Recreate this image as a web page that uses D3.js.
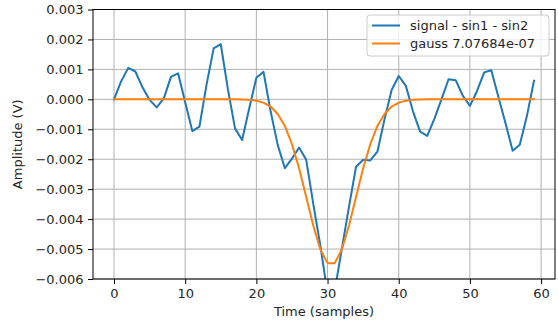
<!DOCTYPE html>
<html>
<head>
<meta charset="utf-8">
<script src="https://cdn.jsdelivr.net/npm/d3@7/dist/d3.min.js"></script>
<style>
  html, body { margin: 0; padding: 0; background: #fff; }
  svg { display: block; }
  text { font-family: "DejaVu Sans", sans-serif; fill: #262626; }
</style>
</head>
<body>
<svg id="chart" width="558" height="325"></svg>
<script>
// Sample index (time axis)
const samples = d3.range(0, 60);

// Measured signal after removing the two sinusoids (V)
const signalValues = [
  0.0000, 0.0006, 0.00105, 0.00093, 0.0004, -0.00002, -0.00027, 0.00003, 0.00075, 0.00087,
  -0.0001, -0.00106, -0.00091, 0.00049, 0.0017, 0.00184, 0.00034, -0.00097, -0.00136, -0.0003,
  0.00072, 0.00092, -0.0004, -0.00152, -0.0023, -0.00198, -0.00161, -0.00202, -0.0035, -0.0049,
  -0.0065, -0.0064, -0.0050, -0.0036, -0.00225, -0.00202, -0.00204, -0.00175, -0.00067, 0.00031,
  0.00078, 0.00045, -0.0004, -0.00108, -0.00122, -0.00065, 0.0000, 0.00067, 0.00064, 0.00012,
  -0.00022, 0.00028, 0.0009, 0.00097, 0.00008, -0.0008, -0.00172, -0.00152, -0.00056, 0.00062
];

// Fitted gaussian pulse (V)
const gaussValues = [
  0, 0, 0, 0, 0, 0, 0, 0, 0, 0,
  0, 0, 0, 0, 0, 0, 0, 0, -0.000006, -0.000018,
  -0.000047, -0.00011, -0.00024, -0.00049, -0.00089, -0.0015, -0.0023, -0.00326, -0.00422, -0.00502,
  -0.00547, -0.00547, -0.00502, -0.00422, -0.00326, -0.0023, -0.0015, -0.00089, -0.00049, -0.00024,
  -0.00011, -0.000047, -0.000018, -0.000006, 0, 0, 0, 0, 0, 0,
  0, 0, 0, 0, 0, 0, 0, 0, 0, 0
];

const seriesNames = ["signal - sin1 - sin2", "gauss 7.07684e-07"];
const seriesColors = ["#1f77b4", "#ff7f0e"];

const xTicks = [0, 10, 20, 30, 40, 50, 60];
const yTicks = [0.003, 0.002, 0.001, 0.000, -0.001, -0.002, -0.003, -0.004, -0.005, -0.006];

const xTitle = "Time (samples)";
const yTitle = "Amplitude (V)";

// Layout
const margin = { left: 93, right: 3, top: 9.5, bottom: 46 };
const W = 558, H = 325;
const plotW = W - margin.left - margin.right;
const plotH = H - margin.top - margin.bottom;

const svg = d3.select("#chart");

const x = d3.scaleLinear().domain([-2.95, 61.95]).range([0, plotW]);
const y = d3.scaleLinear().domain([-0.006, 0.003]).range([plotH, 0]);

const g = svg.append("g").attr("transform", `translate(${margin.left},${margin.top})`);

// Grid
g.append("g").selectAll("line").data(xTicks).join("line")
  .attr("x1", d => x(d)).attr("x2", d => x(d))
  .attr("y1", 0).attr("y2", plotH)
  .attr("stroke", "#b0b0b0").attr("stroke-width", 1);
g.append("g").selectAll("line").data(yTicks).join("line")
  .attr("x1", 0).attr("x2", plotW)
  .attr("y1", d => y(d)).attr("y2", d => y(d))
  .attr("stroke", "#b0b0b0").attr("stroke-width", 1);

// Clip region for the curves
svg.append("defs").append("clipPath").attr("id", "plotClip")
  .append("rect").attr("x", 0).attr("y", 0).attr("width", plotW).attr("height", plotH);

const line = d3.line().x((d, i) => x(samples[i])).y(d => y(d));

const curves = g.append("g").attr("clip-path", "url(#plotClip)");
[signalValues, gaussValues].forEach((vals, k) => {
  curves.append("path")
    .datum(vals)
    .attr("d", line)
    .attr("fill", "none")
    .attr("stroke", seriesColors[k])
    .attr("stroke-width", 2)
    .attr("stroke-linejoin", "round")
    .attr("stroke-linecap", "square");
});

// Axes
const fmtY = v => {
  const s = d3.format(".3f")(Math.abs(v) < 1e-12 ? 0 : v);
  return s.replace("-", "\u2212");
};
const xAxis = d3.axisBottom(x).tickValues(xTicks).tickSize(5).tickPadding(4.5).tickFormat(d3.format("d"));
const yAxis = d3.axisLeft(y).tickValues(yTicks).tickSize(5).tickPadding(4.5).tickFormat(fmtY);

const gx = g.append("g").attr("transform", `translate(0,${plotH})`).call(xAxis);
const gy = g.append("g").call(yAxis);
[gx, gy].forEach(a => {
  a.select(".domain").remove();
  a.selectAll(".tick line").attr("stroke", "#000").attr("stroke-width", 1);
  a.selectAll(".tick text").attr("font-size", 13).attr("font-family", "DejaVu Sans, sans-serif").attr("fill", "#262626");
});

// Spines
g.append("rect").attr("x", 0).attr("y", 0).attr("width", plotW).attr("height", plotH)
  .attr("fill", "none").attr("stroke", "#000").attr("stroke-width", 1);

// Axis titles
svg.append("text")
  .attr("x", margin.left + plotW / 2).attr("y", 316)
  .attr("text-anchor", "middle").attr("font-size", 13)
  .text(xTitle);
svg.append("text")
  .attr("transform", `translate(22,${margin.top + plotH / 2}) rotate(-90)`)
  .attr("text-anchor", "middle").attr("font-size", 13)
  .text(yTitle);

// Legend
const legend = svg.append("g").attr("transform", "translate(367,15)");
legend.append("rect").attr("x", 0).attr("y", 0).attr("width", 182).attr("height", 41)
  .attr("rx", 3).attr("fill", "#fff").attr("fill-opacity", 0.8)
  .attr("stroke", "#cccccc").attr("stroke-width", 1);
seriesNames.forEach((name, k) => {
  const cy = 10.5 + k * 18;
  legend.append("line").attr("x1", 5).attr("x2", 33).attr("y1", cy).attr("y2", cy)
    .attr("stroke", seriesColors[k]).attr("stroke-width", 2);
  legend.append("text").attr("x", 43).attr("y", cy).attr("dy", "0.35em")
    .attr("font-size", 13).text(name);
});
</script>
</body>
</html>
